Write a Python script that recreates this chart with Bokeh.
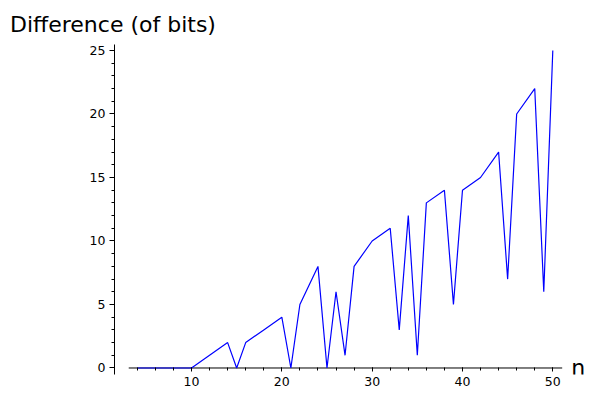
from bokeh.plotting import figure
from bokeh.models import Range1d, SingleIntervalTicker, Label, Title
from bokeh.embed import file_html
from bokeh.resources import INLINE

# data
n = [4, 6, 8, 10, 12, 14, 15, 16, 18, 20, 21, 22, 24, 25, 26, 27, 28, 30, 32,
     33, 34, 35, 36, 38, 39, 40, 42, 44, 45, 46, 48, 49, 50]
diff = [0, 0, 0, 0, 1, 2, 0, 2, 3, 4, 0, 5, 8, 0, 6, 1, 8, 10, 11,
        3, 12, 1, 13, 14, 5, 14, 15, 17, 7, 20, 22, 6, 25]
y_label = "Difference (of bits)"
x_label = "n"

# ranges / layout
x_lo, x_hi = 1.475, 54.395
y_lo, y_hi = -0.512, 25.47
ax_lo, ax_hi = min(n) - 0.95, max(n) + 1.04

p = figure(width=592, height=395, output_backend="svg", toolbar_location=None,
           x_range=Range1d(x_lo, x_hi), y_range=Range1d(y_lo, y_hi),
           min_border_left=114, min_border_right=0, min_border_top=44,
           min_border_bottom=21)
p.outline_line_color = None
p.xgrid.visible = False
p.ygrid.visible = False
p.background_fill_color = "white"
p.border_fill_color = "white"

FONT = "DejaVu Sans"

# x axis line drawn at y = 0
p.segment(x0=[ax_lo], y0=[0], x1=[ax_hi], y1=[0], line_color="black",
          line_width=1, level="underlay")
xa = p.xaxis[0]
xa.ticker = SingleIntervalTicker(interval=10, num_minor_ticks=5)
xa.bounds = (ax_lo, ax_hi)
xa.axis_line_color = None
xa.major_tick_in = 7
xa.major_tick_out = -3
xa.minor_tick_in = 7
xa.minor_tick_out = -4
xa.major_tick_line_color = "black"
xa.minor_tick_line_color = "black"
xa.major_label_standoff = 5
xa.major_label_text_font = FONT
xa.major_label_text_font_size = "12.5px"
xa.major_label_text_color = "black"

ya = p.yaxis[0]
ya.ticker = SingleIntervalTicker(interval=5, num_minor_ticks=5)
ya.axis_line_color = "black"
ya.axis_line_width = 1
ya.major_tick_in = 0
ya.major_tick_out = 5
ya.minor_tick_in = 0
ya.minor_tick_out = 3
ya.major_tick_line_color = "black"
ya.minor_tick_line_color = "black"
ya.major_label_standoff = 4
ya.major_label_text_font = FONT
ya.major_label_text_font_size = "12.5px"
ya.major_label_text_color = "black"

p.line(n, diff, line_color="#0000ff", line_width=1.2)

p.add_layout(Title(text=y_label, align="left", offset=-104.5, standoff=16,
                   text_font=FONT, text_font_size="22px", text_color="black",
                   text_font_style="normal"), "above")
p.add_layout(Label(x=ax_hi, y=0, x_offset=9, y_offset=0, text=x_label,
                   text_font=FONT, text_font_size="22px", text_color="black",
                   text_baseline="alphabetic", text_align="left"))

open("out.html", "w").write(file_html(p, INLINE))
